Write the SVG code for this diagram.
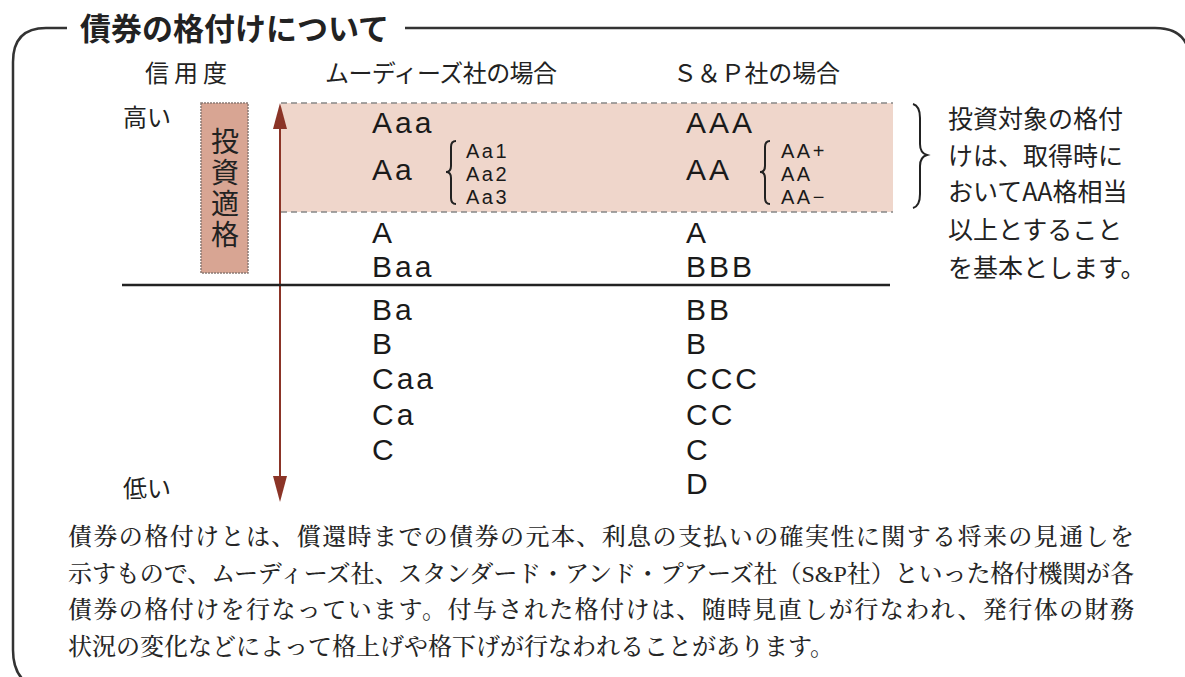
<svg xmlns="http://www.w3.org/2000/svg" width="1185" height="677" viewBox="0 0 1185 677">
<style>
.jp{font-family:"Noto Sans CJK JP","Noto Sans",sans-serif;fill:#222}
.title{font-size:31px;font-weight:bold}
.hdr{font-size:24px}
.rt{font-family:"Liberation Sans",Arial,sans-serif;font-size:30px;letter-spacing:3px;fill:#1a1a1a}
.sub{font-family:"Liberation Sans",Arial,sans-serif;font-size:20px;letter-spacing:2.5px;fill:#1a1a1a}
.note{font-size:25px}
.vert{font-size:28px;writing-mode:vertical-rl;letter-spacing:3px}
.para{font-family:"Liberation Serif","Noto Serif CJK JP","Noto Sans CJK JP",serif;font-size:24px;font-weight:500;fill:#262626}
.frame{fill:none;stroke:#333;stroke-width:2.5}
.brace{fill:none;stroke:#222;stroke-width:2}
.dash{stroke:#888;stroke-width:1.5;stroke-dasharray:6 4}
</style>
<rect width="1185" height="677" fill="#fff"/>
<g id="frame">
<path class="frame" d="M67 28 L46 28 Q13 28 13 62 L13 650 Q13 690 55 690"/>
<path class="frame" d="M405 28 L1155 28 Q1190 28 1190 63 L1190 690"/>
<text class="jp title" x="80" y="40">債券の格付けについて</text>
</g>
<g id="headers">
<text class="jp hdr" x="145" y="82" textLength="82">信用度</text>
<text class="jp hdr" x="325" y="82" textLength="232">ムーディーズ社の場合</text>
<text class="jp hdr" x="673" y="82" textLength="167">Ｓ＆Ｐ社の場合</text>
<text class="jp hdr" x="123" y="126">高い</text>
<text class="jp hdr" x="123" y="497">低い</text>
</g>
<g id="band">
<rect x="281" y="103" width="612" height="109" fill="#efd6cb"/>
<line class="dash" x1="281" y1="103" x2="893" y2="103"/>
<line class="dash" x1="281" y1="212" x2="893" y2="212"/>
</g>
<g id="investment-grade">
<rect x="201" y="103" width="47" height="170" fill="#d8a593" stroke="#8a7a74" stroke-width="1.5" stroke-dasharray="2 1"/>
<text class="jp vert" x="225" y="127">投資適格</text>
</g>
<g id="connectors">
<line x1="280" y1="120" x2="280" y2="485" stroke="#8b3427" stroke-width="2"/>
<polygon points="280,103 273,129 287,129" fill="#8b3427"/>
<polygon points="280,502 273,476 287,476" fill="#8b3427"/>
<line x1="122" y1="285" x2="890" y2="285" stroke="#222" stroke-width="2.5"/>
</g>
<g id="moodys">
<text class="rt" x="372" y="133">Aaa</text>
<text class="rt" x="372" y="180">Aa</text>
<path class="brace" d="M456 141 Q451 141 451 147 L451 166 Q451 172 446 172 Q451 172 451 178 L451 198 Q451 204 456 204"/>
<text class="sub" x="466" y="158">Aa1</text>
<text class="sub" x="466" y="181">Aa2</text>
<text class="sub" x="466" y="204">Aa3</text>
<text class="rt" x="372" y="243">A</text>
<text class="rt" x="372" y="277">Baa</text>
<text class="rt" x="372" y="320">Ba</text>
<text class="rt" x="372" y="354">B</text>
<text class="rt" x="372" y="389">Caa</text>
<text class="rt" x="372" y="425">Ca</text>
<text class="rt" x="372" y="460">C</text>
</g>
<g id="sp">
<text class="rt" x="686" y="133">AAA</text>
<text class="rt" x="686" y="180">AA</text>
<path class="brace" d="M770 141 Q765 141 765 147 L765 166 Q765 172 760 172 Q765 172 765 178 L765 198 Q765 204 770 204"/>
<text class="sub" x="781" y="158">AA+</text>
<text class="sub" x="781" y="181">AA</text>
<text class="sub" x="781" y="204">AA−</text>
<text class="rt" x="686" y="243">A</text>
<text class="rt" x="686" y="277">BBB</text>
<text class="rt" x="686" y="320">BB</text>
<text class="rt" x="686" y="354">B</text>
<text class="rt" x="686" y="389">CCC</text>
<text class="rt" x="686" y="425">CC</text>
<text class="rt" x="686" y="460">C</text>
<text class="rt" x="686" y="494">D</text>
</g>
<g id="note">
<path class="brace" d="M913 104 Q920 106 920 118 L920 144 Q920 153 927 155 Q920 157 920 166 L920 194 Q920 206 913 208"/>
<text class="jp note" x="948" y="128">投資対象の格付</text>
<text class="jp note" x="948" y="165">けは、取得時に</text>
<text class="jp note" x="948" y="201">おいてAA格相当</text>
<text class="jp note" x="948" y="239">以上とすること</text>
<text class="jp note" x="948" y="277">を基本とします。</text>
</g>
<g id="description">
<text class="para" x="68" y="545" textLength="1066">債券の格付けとは、償還時までの債券の元本、利息の支払いの確実性に関する将来の見通しを</text>
<text class="para" x="68" y="582" textLength="1066">示すもので、ムーディーズ社、スタンダード・アンド・プアーズ社（S&amp;P社）といった格付機関が各</text>
<text class="para" x="68" y="618" textLength="1066">債券の格付けを行なっています。付与された格付けは、随時見直しが行なわれ、発行体の財務</text>
<text class="para" x="68" y="655">状況の変化などによって格上げや格下げが行なわれることがあります。</text>
</g>
</svg>
